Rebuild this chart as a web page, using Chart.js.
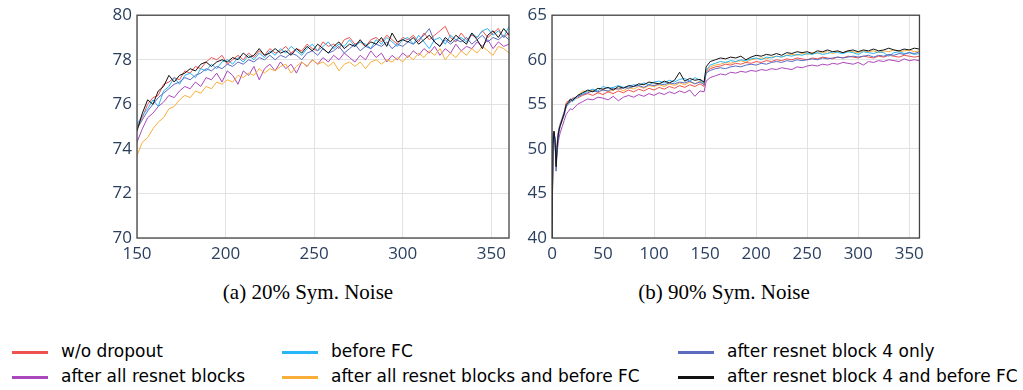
<!DOCTYPE html>
<html>
<head>
<meta charset="utf-8">
<script src="https://cdn.jsdelivr.net/npm/chart.js@4.4.1/dist/chart.umd.min.js"></script>
<style>
    body { margin: 0; background: #fff; width: 1023px; height: 390px; position: relative; overflow: hidden; }
    .panel { position: absolute; top: 0; }
    .caption { position: absolute; top: 280px; font-family: "Liberation Serif", "Times New Roman", serif; font-size: 21px; color: #000; transform: translateX(-50%); white-space: nowrap; }
    .legend-item { position: absolute; font-family: "DejaVu Sans", sans-serif; font-size: 17px; color: #000; white-space: nowrap; line-height: 20px; }
    .swatch { position: absolute; width: 36px; height: 2.5px; }
</style>
</head>
<body>
<canvas id="chartA" class="panel" style="left:90px" width="425" height="270"></canvas>
<canvas id="chartB" class="panel" style="left:505px" width="425" height="270"></canvas>
<div class="caption" style="left:308px">(a) 20% Sym. Noise</div>
<div class="caption" style="left:724px">(b) 90% Sym. Noise</div>
<div id="legend"></div>
<script>
// series names and colours (legend order)
const seriesNames = ['w/o dropout', 'after all resnet blocks', 'before FC',
    'after all resnet blocks and before FC', 'after resnet block 4 only', 'after resnet block 4 and before FC'];
const seriesColors = ['#ef5350', '#ab47bc', '#29b6f6', '#f9ae3a', '#5c6bc0', '#111111'];

// tick labels
const xTicksA = [150, 200, 250, 300, 350];
const yTicksA = [70, 72, 74, 76, 78, 80];
const xTicksB = [0, 50, 100, 150, 200, 250, 300, 350];
const yTicksB = [40, 45, 50, 55, 60, 65];

// (a) 20% symmetric noise, epochs 150-360
const epochsA = [150, 153, 156, 159, 162, 165, 168, 171, 174, 177,
    180, 183, 186, 189, 192, 195, 198, 201, 204, 207,
    210, 213, 216, 219, 222, 225, 228, 231, 234, 237,
    240, 243, 246, 249, 252, 255, 258, 261, 264, 267,
    270, 273, 276, 279, 282, 285, 288, 291, 294, 297,
    300, 303, 306, 309, 312, 315, 318, 321, 324, 327,
    330, 333, 336, 339, 342, 345, 348, 351, 354, 357,
    360];
const noDropoutA = [75.0, 75.4, 76.0, 76.3, 76.4, 76.9, 77.0, 77.2, 77.1, 77.5,
    77.4, 77.7, 77.6, 77.9, 78.1, 78.0, 78.2, 77.8, 78.0, 78.2,
    78.0, 78.3, 78.1, 78.4, 78.2, 78.5, 78.3, 78.4, 78.6, 78.3,
    78.5, 78.4, 78.7, 78.5, 78.4, 78.8, 78.6, 78.7, 78.5, 78.9,
    79.0, 78.7, 78.8, 78.6, 78.9, 79.0, 78.8, 79.1, 78.9, 78.7,
    79.0, 78.9, 79.1, 78.8, 79.2, 78.9, 79.1, 79.3, 79.5, 79.0,
    78.8, 79.2, 78.9, 79.1, 79.0, 79.3, 79.0, 79.2, 79.4, 79.0,
    79.2];
const allBlocksA = [74.3, 74.9, 75.4, 75.6, 75.9, 76.1, 76.4, 76.3, 76.6, 76.8,
    76.7, 77.0, 76.8, 77.2, 77.1, 77.4, 77.0, 77.5, 77.3, 76.9,
    77.5, 77.3, 77.7, 77.1, 77.6, 77.8, 77.5, 77.9, 77.6, 77.8,
    77.4, 77.9, 77.7, 78.0, 77.8, 78.1, 77.9, 78.2, 78.0, 78.3,
    78.1, 77.9, 78.2, 78.0, 78.4, 78.1, 78.3, 77.9, 78.2, 78.0,
    78.3, 78.1, 78.4, 78.2, 78.5, 78.3, 78.6, 78.2, 78.5, 78.3,
    78.7, 78.4, 78.6, 78.5, 78.8, 78.6, 78.9, 78.5, 78.8, 78.6,
    78.7];
const beforeFcA = [75.1, 75.5, 75.8, 76.2, 75.9, 76.6, 76.8, 77.2, 76.9, 77.3,
    77.4, 77.2, 77.6, 77.5, 77.8, 77.6, 77.9, 78.0, 77.8, 78.1,
    77.9, 78.2, 78.0, 78.3, 78.1, 78.4, 78.2, 78.5, 78.3, 78.6,
    78.4, 78.2, 78.5, 78.7, 78.4, 78.6, 78.8, 78.5, 78.7, 78.6,
    78.9, 78.6, 78.8, 78.7, 78.5, 78.9, 78.7, 79.0, 78.8, 78.6,
    78.9, 79.0, 78.7, 79.1, 78.8, 78.5, 78.9, 79.0, 78.7, 79.1,
    78.9, 79.0, 78.8, 79.2, 79.0, 79.3, 79.4, 79.1, 79.3, 79.0,
    79.5];
const allBlocksFcA = [73.7, 74.3, 74.5, 74.9, 75.2, 75.4, 75.8, 75.9, 76.2, 76.4,
    76.3, 76.6, 76.5, 76.8, 76.7, 77.0, 76.9, 77.1, 77.0, 77.3,
    77.2, 77.4, 77.3, 77.6, 77.4, 77.6, 77.5, 77.7, 77.8, 77.4,
    77.7, 77.9, 77.7, 78.0, 77.8, 77.9, 77.7, 77.9, 77.5, 77.8,
    77.9, 77.7, 77.9, 77.6, 77.9, 78.0, 77.8, 78.0, 77.9, 78.1,
    77.9, 78.2, 78.0, 78.3, 78.1, 78.4, 78.2, 78.5, 78.0, 78.3,
    78.1, 78.4, 78.2, 78.5, 78.3, 78.6, 78.4, 78.2, 78.6, 78.5,
    78.3];
const block4A = [74.9, 75.3, 75.7, 76.0, 76.3, 76.5, 76.7, 76.9, 77.0, 77.2,
    77.1, 77.3, 77.4, 77.6, 77.5, 77.7, 77.6, 77.8, 77.7, 77.9,
    77.8, 78.0, 77.9, 78.1, 78.0, 78.2, 78.0, 78.2, 78.1, 78.3,
    78.2, 78.0, 78.3, 78.4, 78.2, 78.5, 78.3, 78.4, 78.6, 78.3,
    78.5, 78.7, 78.4, 78.6, 78.5, 78.7, 78.6, 78.8, 78.5, 78.7,
    78.6, 78.8, 78.7, 78.9, 79.1, 79.4, 78.8, 78.6, 78.9, 78.7,
    78.9, 78.8, 79.0, 78.7, 78.9, 79.1, 78.8, 79.0, 78.9, 79.1,
    78.9];
const block4FcA = [74.8, 75.6, 76.2, 76.0, 76.6, 76.8, 77.3, 77.0, 77.3, 77.4,
    77.6, 77.5, 77.8, 77.9, 77.7, 77.9, 78.0, 77.9, 78.1, 78.0,
    78.3, 78.1, 78.2, 78.5, 78.2, 78.3, 78.5, 78.3, 78.4, 78.2,
    78.5, 78.3, 78.6, 78.4, 78.7, 78.5, 78.3, 78.6, 78.8, 78.5,
    78.7, 78.6, 78.9, 78.6, 78.8, 78.7, 79.0, 78.6, 79.2, 78.8,
    78.9, 78.8, 79.0, 78.7, 78.9, 79.1, 78.8, 78.6, 79.0, 78.8,
    79.1, 78.9, 78.7, 79.2, 78.9, 78.5, 79.1, 79.3, 79.0, 79.4,
    79.1];

// (b) 90% symmetric noise, epochs 0-360
const epochsB = [0, 1, 2, 3, 4, 5, 6, 7, 8, 10, 12, 14, 16, 18, 20,
    25, 30, 35, 40, 45, 50, 55, 60, 65, 70, 75, 80, 85, 90, 95,
    100, 105, 110, 115, 120, 125, 130, 135, 140, 145, 149, 151,
    155, 160, 165, 170, 175, 180, 185, 190, 195, 200, 205, 210, 215, 220,
    225, 230, 235, 240, 245, 250, 255, 260, 265, 270, 275, 280, 285, 290,
    295, 300, 305, 310, 315, 320, 325, 330, 335, 340, 345, 350, 355, 360];
const noDropoutB = [40.0, 50.0, 51.5, 50.8, 49.0, 50.5, 51.8, 52.4, 52.8, 53.5, 54.2, 55.2, 55.4, 55.3, 55.7,
    55.7, 56.0, 56.2, 56.0, 56.3, 56.1, 56.4, 56.2, 56.5, 56.3, 56.6, 56.4, 56.7, 56.5, 56.8,
    56.6, 56.9, 56.7, 57.0, 56.8, 57.1, 56.9, 57.2, 57.0, 57.3, 57.0, 58.6,
    59.0, 59.2, 59.3, 59.5, 59.4, 59.6, 59.5, 59.7, 59.6, 59.8, 59.7, 59.9, 59.8, 60.0,
    59.9, 60.1, 60.0, 60.2, 60.1, 60.0, 60.2, 60.1, 60.3, 60.2, 60.1, 60.3, 60.2, 60.4,
    60.3, 60.2, 60.4, 60.3, 60.2, 60.4, 60.3, 60.5, 60.4, 60.3, 60.5, 60.4, 60.3, 60.4];
const allBlocksB = [40.0, 51.8, 51.9, 51.0, 48.2, 49.5, 50.6, 51.3, 51.8, 52.5, 53.2, 53.9, 54.2, 54.5, 54.4,
    55.0, 55.3, 55.6, 55.5, 55.8, 55.7, 55.5, 55.9, 55.4, 55.8, 56.0, 55.8, 56.1, 55.9, 56.2,
    56.0, 56.3, 56.1, 56.4, 56.2, 56.5, 56.3, 56.6, 55.9, 56.5, 56.4, 57.6,
    58.0, 58.2, 58.4, 58.3, 58.6, 58.5, 58.7, 58.6, 58.8, 58.7, 58.9, 58.8, 59.0, 58.9,
    59.1, 59.0, 58.9, 59.2, 59.1, 59.3, 59.4, 59.3, 59.5, 59.4, 59.6, 59.5, 59.7, 59.6,
    59.5, 59.7, 59.4, 59.8, 59.7, 59.9, 59.8, 60.0, 59.9, 59.8, 60.1, 59.9, 60.0, 59.9];
const beforeFcB = [40.0, 50.8, 51.7, 51.2, 48.6, 50.4, 51.6, 52.3, 52.7, 53.4, 54.1, 54.7, 55.1, 55.5, 55.3,
    55.8, 56.2, 56.5, 56.7, 56.5, 57.0, 56.8, 56.9, 57.1, 56.9, 57.0, 57.2, 57.1, 57.4, 57.2,
    57.5, 57.6, 57.4, 57.7, 57.5, 57.8, 57.9, 57.6, 58.0, 57.7, 57.4, 58.8,
    59.4, 59.6, 59.8, 59.7, 59.9, 59.8, 60.0, 59.9, 60.1, 60.2, 60.0, 60.3, 60.2, 60.4,
    60.3, 60.5, 60.4, 60.6, 60.5, 60.7, 60.6, 60.8, 60.6, 60.7, 60.9, 60.8, 60.7, 60.9,
    60.8, 60.6, 60.9, 60.8, 60.7, 60.9, 60.8, 60.4, 60.8, 60.9, 60.7, 60.8, 60.6, 60.7];
const allBlocksFcB = [40.0, 50.2, 51.4, 50.6, 49.2, 50.0, 51.4, 52.1, 52.6, 53.1, 54.0, 54.9, 55.3, 55.2, 55.6,
    55.9, 56.5, 56.4, 56.6, 56.3, 56.7, 56.4, 56.6, 56.8, 56.5, 56.9, 56.7, 57.0, 56.8, 57.1,
    57.0, 57.2, 57.0, 57.3, 57.1, 57.4, 57.2, 57.5, 57.3, 57.6, 57.3, 58.7,
    59.2, 59.4, 59.5, 59.7, 59.6, 59.8, 59.9, 59.7, 60.0, 60.1, 60.2, 60.1, 60.3, 60.4,
    60.3, 60.5, 60.6, 60.5, 60.7, 60.6, 60.8, 60.7, 60.8, 60.9, 60.7, 60.9, 60.8, 61.0,
    60.9, 60.8, 61.0, 60.9, 61.0, 60.8, 61.0, 60.9, 61.1, 60.9, 61.0, 61.1, 60.9, 61.0];
const block4B = [40.0, 51.5, 51.8, 50.5, 47.5, 49.8, 51.2, 52.0, 52.5, 53.2, 53.8, 54.8, 55.0, 55.3, 55.6,
    55.9, 56.1, 56.3, 56.5, 56.4, 56.6, 56.5, 56.8, 56.7, 56.9, 56.8, 57.0, 57.1, 56.9, 57.2,
    57.1, 57.3, 57.2, 57.4, 57.3, 57.5, 57.4, 57.6, 57.3, 57.5, 57.2, 58.5,
    58.8, 59.0, 59.1, 59.0, 59.2, 59.3, 59.2, 59.4, 59.5, 59.4, 59.6, 59.5, 59.7, 59.8,
    59.7, 59.9, 59.8, 60.0, 59.9, 60.0, 60.1, 60.0, 60.2, 60.1, 60.2, 60.3, 60.2, 60.3,
    60.4, 60.3, 60.4, 60.5, 60.3, 60.5, 60.4, 60.6, 60.5, 60.7, 60.6, 60.8, 60.7, 60.9];
const block4FcB = [40.0, 50.5, 52.0, 51.0, 48.0, 50.2, 51.5, 52.2, 52.6, 53.3, 54.0, 55.0, 55.2, 55.6, 55.4,
    56.0, 56.3, 56.6, 56.4, 56.8, 56.7, 56.9, 56.6, 57.0, 56.8, 57.1, 57.0, 57.3, 57.2, 57.5,
    57.4, 57.3, 57.6, 57.4, 57.7, 58.6, 57.6, 57.9, 57.7, 57.8, 57.5, 59.2,
    59.8, 60.0, 60.2, 60.1, 60.3, 60.2, 60.4, 60.0, 60.3, 60.5, 60.4, 60.6, 60.5, 60.7,
    60.5, 60.8, 60.7, 60.9, 60.8, 60.9, 60.7, 61.0, 60.9, 61.1, 60.9, 61.0, 60.8, 61.0,
    61.1, 60.9, 61.1, 61.0, 61.2, 61.0, 61.1, 61.3, 61.1, 61.0, 61.2, 61.1, 61.3, 61.2];

const seriesA = [noDropoutA, allBlocksA, beforeFcA, allBlocksFcA, block4A, block4FcA];
const seriesB = [noDropoutB, allBlocksB, beforeFcB, allBlocksFcB, block4B, block4FcB];

// draw order: black on top, purple/orange underneath
const drawOrder = [3, 5, 2, 4, 1, 0];

const tickFont = { family: '"Open Sans", sans-serif', size: 17 };
const tickColor = '#2a3f5f';

// frame around the plot area (all four sides)
const framePlugin = {
    id: 'frame',
    afterDatasetsDraw(chart) {
        const { ctx, chartArea: a } = chart;
        ctx.save();
        ctx.strokeStyle = '#444';
        ctx.lineWidth = 1.3;
        ctx.strokeRect(a.left, a.top, a.right - a.left, a.bottom - a.top);
        ctx.restore();
    }
};

function makeDatasets(epochs, series) {
    return series.map((values, i) => ({
        label: seriesNames[i],
        data: values.map((v, j) => ({ x: epochs[j], y: v })),
        borderColor: seriesColors[i],
        borderWidth: 1,
        pointRadius: 0,
        tension: 0,
        fill: false,
        order: drawOrder[i]
    }));
}

function createPanel(canvasId, epochs, series, xMin, xMax, xTicks, yTicks) {
    const ctx = document.getElementById(canvasId).getContext('2d');
    return new Chart(ctx, {
        type: 'line',
        data: { datasets: makeDatasets(epochs, series) },
        options: {
            responsive: false,
            animation: false,
            devicePixelRatio: 1,
            layout: { padding: { top: 13, right: 6, left: 0, bottom: 0 } },
            plugins: {
                legend: { display: false },
                tooltip: { enabled: false }
            },
            scales: {
                x: {
                    type: 'linear',
                    min: xMin,
                    max: xMax,
                    ticks: { font: tickFont, color: tickColor, padding: 6, maxRotation: 0, autoSkip: false },
                    afterBuildTicks: s => { s.ticks = xTicks.map(v => ({ value: v })); },
                    afterFit: s => { s.height = 32; },
                    grid: { color: '#e2e2e2', lineWidth: 1, drawTicks: false },
                    border: { display: false }
                },
                y: {
                    min: yTicks[0],
                    max: yTicks[yTicks.length - 1],
                    ticks: { font: tickFont, color: tickColor, padding: 5, autoSkip: false },
                    afterBuildTicks: s => { s.ticks = yTicks.map(v => ({ value: v })); },
                    afterFit: s => { s.width = 47; },
                    grid: { color: '#e2e2e2', lineWidth: 1, drawTicks: false },
                    border: { display: false }
                }
            }
        },
        plugins: [framePlugin]
    });
}

createPanel('chartA', epochsA, seriesA, 150, 360, xTicksA, yTicksA);
createPanel('chartB', epochsB, seriesB, 0, 360, xTicksB, yTicksB);

// shared legend below both panels (3 columns x 2 rows)
const legendCols = [{ line: 12, text: 61 }, { line: 282, text: 331 }, { line: 678, text: 727 }];
const legendRows = [352, 377];
const legendEl = document.getElementById('legend');
seriesNames.forEach((name, i) => {
    const col = legendCols[Math.floor(i / 2)];
    const rowY = legendRows[i % 2];
    const sw = document.createElement('div');
    sw.className = 'swatch';
    sw.style.left = col.line + 'px';
    sw.style.top = (rowY - 1) + 'px';
    sw.style.background = seriesColors[i];
    legendEl.appendChild(sw);
    const tx = document.createElement('div');
    tx.className = 'legend-item';
    tx.style.left = col.text + 'px';
    tx.style.top = (rowY - 11) + 'px';
    tx.textContent = name;
    legendEl.appendChild(tx);
});
</script>
</body>
</html>
